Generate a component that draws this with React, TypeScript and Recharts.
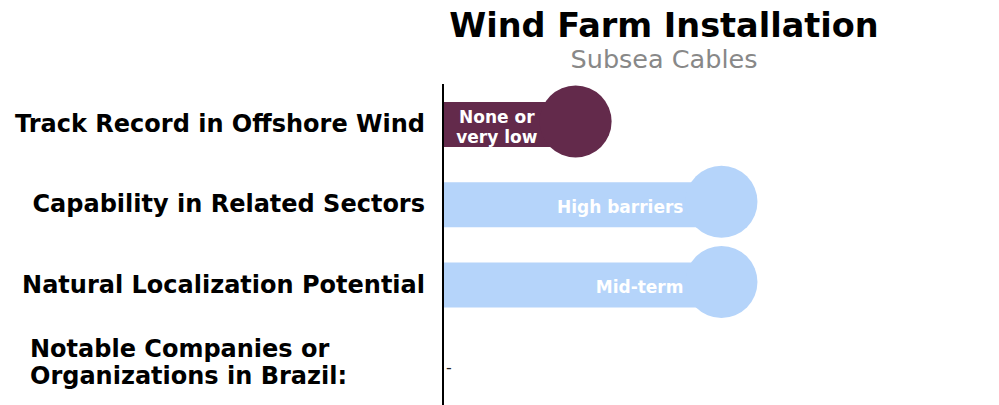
import React from 'react';
import { BarChart, Bar, XAxis, YAxis } from 'recharts';

const categories = [
  'Track Record in Offshore Wind',
  'Capability in Related Sectors',
  'Natural Localization Potential',
  'Notable Companies or\nOrganizations in Brazil:',
];
const scores = [30, 63, 63, 0];
const barLabels = ['None or\nvery low', 'High barriers', 'Mid-term', '-'];
const barColors = ['#632a4b', '#b5d4fa', '#b5d4fa', '#b5d4fa'];

const data = categories.map((category, i) => ({
  category,
  score: scores[i],
  label: barLabels[i],
  color: barColors[i],
}));

const FONT = '"DejaVu Sans", Verdana, sans-serif';

const LollipopBar = (props: any) => {
  const { x, y, width, height, payload } = props;
  const cy = y + height / 2;
  if (!payload.score) {
    return (
      <text x={x + 3} y={cy + 2} dominantBaseline="central" fontSize={16} fill="#222" fontFamily={FONT}>
        {payload.label}
      </text>
    );
  }
  const r = 35;
  const cx = x + width;
  const fs = 17;
  const lines: string[] = payload.label.split('\n');
  const longest = Math.max(...lines.map((l) => l.length));
  const textRight = cx - r - 3;
  const multi = lines.length > 1;
  const tx = multi ? textRight - longest * fs * 0.3 : textRight;
  return (
    <g>
      <rect x={x} y={y} width={width} height={height} fill={payload.color} />
      <circle cx={cx} cy={cy - 3} r={r + 1} fill={payload.color} />
      <text
        x={tx}
        y={cy}
        textAnchor={multi ? 'middle' : 'end'}
        fontSize={fs}
        fontWeight="bold"
        fill="#ffffff"
        fontFamily={FONT}
      >
        {lines.map((l, i) => (
          <tspan key={i} x={tx} y={cy + 2 + (i - (lines.length - 1) / 2) * 20} dominantBaseline="central">
            {l}
          </tspan>
        ))}
      </text>
    </g>
  );
};

const CategoryTick = (props: any) => {
  const { x, y, payload } = props;
  const lines: string[] = String(payload.value).split('\n');
  if (lines.length === 1) {
    return (
      <text x={x - 10} y={y} textAnchor="end" dominantBaseline="central" fontSize={24} fontWeight="bold" fill="#000" fontFamily={FONT}>
        {payload.value}
      </text>
    );
  }
  const left = x - 405;
  return (
    <text x={left} y={y} textAnchor="start" fontSize={24} fontWeight="bold" fill="#000" fontFamily={FONT}>
      {lines.map((l, i) => (
        <tspan key={i} x={left} y={y - 2 + (i - (lines.length - 1) / 2) * 27} dominantBaseline="central">
          {l}
        </tspan>
      ))}
    </text>
  );
};

export default function App() {
  return (
    <div style={{ position: 'absolute', left: 0, top: 0, width: 999, height: 405, background: '#fff', fontFamily: FONT }}>
      <div style={{ position: 'absolute', left: 414, top: 9, width: 500, textAlign: 'center', fontSize: 33.5, fontWeight: 'bold', lineHeight: 1, color: '#000' }}>
        Wind Farm Installation
      </div>
      <div style={{ position: 'absolute', left: 414, top: 47, width: 500, textAlign: 'center', fontSize: 25.5, lineHeight: 1, color: '#888' }}>
        Subsea Cables
      </div>
      <BarChart
        width={999}
        height={405}
        data={data}
        layout="vertical"
        margin={{ top: 84, right: 114, bottom: 0, left: 0 }}
        barCategoryGap={0}
      >
        <XAxis type="number" domain={[0, 100]} hide />
        <YAxis
          type="category"
          dataKey="category"
          width={443}
          tickLine={false}
          axisLine={{ stroke: '#000', strokeWidth: 2 }}
          tick={<CategoryTick />}
          interval={0}
        />
        <Bar dataKey="score" barSize={45} shape={<LollipopBar />} isAnimationActive={false} />
      </BarChart>
    </div>
  );
}
